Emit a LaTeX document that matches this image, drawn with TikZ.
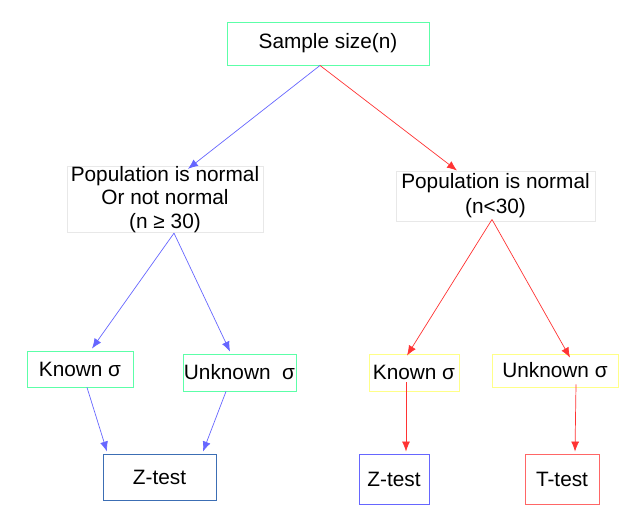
\documentclass[tikz,border=0pt]{standalone}
\usepackage{fontspec}
\setmainfont{Liberation Sans}
\usetikzlibrary{arrows.meta}

\definecolor{mint}{HTML}{5CFFA8}
\definecolor{paleyellow}{HTML}{FFFF88}
\definecolor{palegray}{HTML}{E8E8E8}
\definecolor{steel}{HTML}{3C6EB4}
\definecolor{lblue}{HTML}{6666FF}
\definecolor{lred}{HTML}{FF3333}
\definecolor{pink}{HTML}{FF6666}

\tikzset{
  box/.style={draw, rectangle, inner sep=0pt, align=center,
    font=\fontsize{20.8}{23.5}\selectfont, line width=0.9pt},
  link/.style={-{Latex[length=10pt,width=8pt]}, line width=0.7pt},
}

\begin{document}
\begin{tikzpicture}[x=1pt, y=-1pt]
  \useasboundingbox (0,0) rectangle (623,520);

  % Define nodes
  \node[box, draw=mint, minimum width=202pt, minimum height=43pt]       (sample)   at (328,43.5)  {Sample size(n)};
  \node[box, draw=palegray, minimum width=196pt, minimum height=63pt]   (popL)     at (165,199.5) {Population is normal\\Or not normal\\(n ≥ 30)};
  \node[box, draw=palegray, minimum width=199pt, minimum height=50pt,
        font=\fontsize{20.8}{25}\selectfont]                             (popR)     at (495.5,196) {\raisebox{-3pt}{Population is normal}\\\raisebox{-3pt}{(n<30)}};
  \node[box, draw=mint, minimum width=106pt, minimum height=36pt]       (knownL)   at (80,369)    {Known σ};
  \node[box, draw=mint, minimum width=113pt, minimum height=37pt]       (unknownL) at (239.5,372.5) {Unknown\ \ σ};
  \node[box, draw=paleyellow, minimum width=90pt, minimum height=37pt]  (knownR)   at (414,372.5) {Known σ};
  \node[box, draw=paleyellow, minimum width=126pt, minimum height=33pt] (unknownR) at (555,370.5) {Unknown σ};
  \node[box, draw=steel, minimum width=113pt, minimum height=46pt]      (zL)       at (159.5,477) {Z-test};
  \node[box, draw=lblue, minimum width=70pt, minimum height=50pt]       (zR)       at (394,479)   {Z-test};
  \node[box, draw=pink, minimum width=74pt, minimum height=50pt]        (tR)       at (562,479)   {T-test};

  % Connect the nodes
  \draw[link, lblue] ([xshift=-8pt]sample.south) -- ([xshift=23pt,yshift=-3pt]popL.north);
  \draw[link, lred]  ([xshift=-8pt]sample.south) -- ([xshift=-38.5pt]popR.north);
  \draw[link, lblue] ([xshift=9pt]popL.south) -- ([xshift=12pt,yshift=2pt]knownL.north);
  \draw[link, lblue] ([xshift=9pt]popL.south) -- ([xshift=-9.5pt,yshift=2pt]unknownL.north);
  \draw[link, lred]  ([xshift=-3.5pt,yshift=2pt]popR.south) -- ([xshift=-7pt,yshift=-2pt]knownR.north);
  \draw[link, lred]  ([xshift=-3.5pt,yshift=2pt]popR.south) -- ([xshift=15pt,yshift=-4pt]unknownR.north);
  \draw[link, lblue] ([xshift=7pt]knownL.south) -- ([xshift=-52.5pt,yshift=2pt]zL.north);
  \draw[link, lblue] ([xshift=-13.5pt]unknownL.south) -- ([xshift=43.5pt,yshift=2pt]zL.north);
  \draw[link, lred]  ([xshift=-8pt,yshift=9pt]knownR.south) -- ([xshift=12pt,yshift=2pt]zR.north);
  \draw[link, lred]  ([xshift=21pt,yshift=3pt]unknownR.south) -- ([xshift=13pt,yshift=2pt]tR.north);

\end{tikzpicture}
\end{document}
